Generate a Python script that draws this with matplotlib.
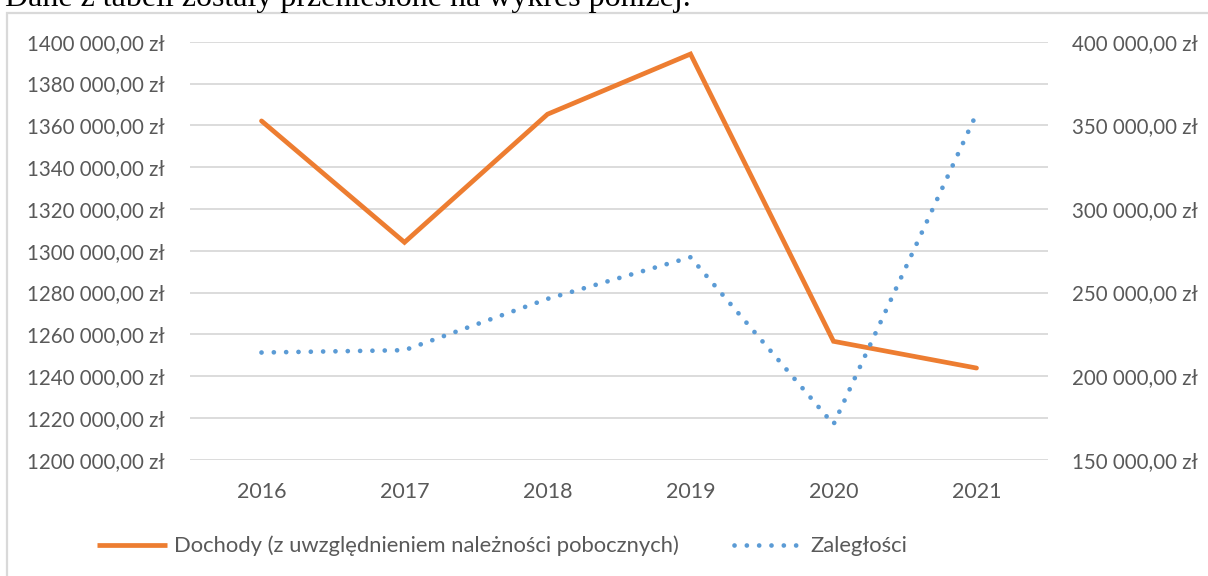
import matplotlib
matplotlib.use("Agg")
import matplotlib.pyplot as plt
from matplotlib.patches import Rectangle
from matplotlib.lines import Line2D
from matplotlib.ticker import FuncFormatter, MultipleLocator

# ---- data ----
years = ["2016", "2017", "2018", "2019", "2020", "2021"]
dochody = [1362100, 1304000, 1365300, 1394100, 1256650, 1243850]
zaleglosci = [214100, 215500, 246200, 271100, 171100, 356900]
label_dochody = "Dochody (z uwzględnieniem należności pobocznych)"
label_zaleglosci = "Zaległości"
header_text = "Dane z tabeli zostały przeniesione na wykres poniżej."

ORANGE = "#ED7D31"
BLUE = "#5B9BD5"
GRID = "#D9D9D9"
TXT = "#595959"
FONT = ["Lato", "DejaVu Sans"]
FS_X = 15.5
FS_Y = 14.8
FS_LEG = 15.8

W, H = 1208, 576
fig = plt.figure(figsize=(W / 100, H / 100), dpi=100)

def px(x, y):
    return x / W, 1 - y / H

# header text (cut off at top, as in the source)
fig.text(5 / W, 1 - 6 / H, header_text, family=["Liberation Serif", "DejaVu Serif"],
         fontsize=23, color="black", va="baseline", ha="left")

# chart frame
fig.patches.append(Rectangle(px(7, 700), (1230 - 7) / W, (700 - 13) / H,
                             transform=fig.transFigure, fill=False,
                             edgecolor=GRID, linewidth=1.6, zorder=0))

left, right = 190, 1048
top, bottom = 41.7, 459.7
ax = fig.add_axes([left / W, 1 - bottom / H, (right - left) / W, (bottom - top) / H])
ax2 = ax.twinx()

x = list(range(len(years)))

def fmt(v, pos):
    s = f"{int(round(v)):d}"
    return f"{s[:-3]} {s[-3:]},00 zł"

ax.set_xlim(-0.5, len(years) - 0.5)
ax.set_ylim(1200000, 1400000)
ax.yaxis.set_major_locator(MultipleLocator(20000))
ax.yaxis.set_major_formatter(FuncFormatter(fmt))
ax2.set_ylim(150000, 400000)
ax2.yaxis.set_major_locator(MultipleLocator(50000))
ax2.yaxis.set_major_formatter(FuncFormatter(fmt))

ax.grid(axis="y", color=GRID, linewidth=1.3)
ax.set_axisbelow(True)
for a in (ax, ax2):
    for s in a.spines.values():
        s.set_visible(False)
    a.tick_params(length=0, colors=TXT, labelsize=FS_Y)
    for lab in a.get_yticklabels():
        lab.set_family(FONT)

ax.set_xticks(x)
ax.set_xticklabels(years, family=FONT, fontsize=FS_X, color=TXT)
ax.tick_params(axis="x", pad=16)
ax.tick_params(axis="y", pad=18)
ax2.tick_params(axis="y", pad=17)

ax.plot(x, dochody, color=ORANGE, linewidth=3.4, solid_joinstyle="miter",
        solid_capstyle="round", zorder=3)
ax2.plot(x, zaleglosci, color=BLUE, linewidth=3.4, linestyle=(0, (0.01, 2.6)),
         dash_capstyle="round", zorder=3)

handles = [
    Line2D([], [], color=ORANGE, linewidth=3.4, solid_capstyle="butt"),
    Line2D([], [], color=BLUE, linewidth=3.4, linestyle=(0, (0.01, 2.6)),
           dash_capstyle="round"),
]
fig.legend(handles, [label_dochody, label_zaleglosci], loc="center left",
           bbox_to_anchor=px(97, 546), ncol=2, frameon=False, borderpad=0,
           borderaxespad=0, handlelength=3.2, handletextpad=0.3,
           columnspacing=2.5, prop={"family": FONT, "size": FS_LEG},
           labelcolor=TXT)

fig.savefig("out.png", dpi=100)
